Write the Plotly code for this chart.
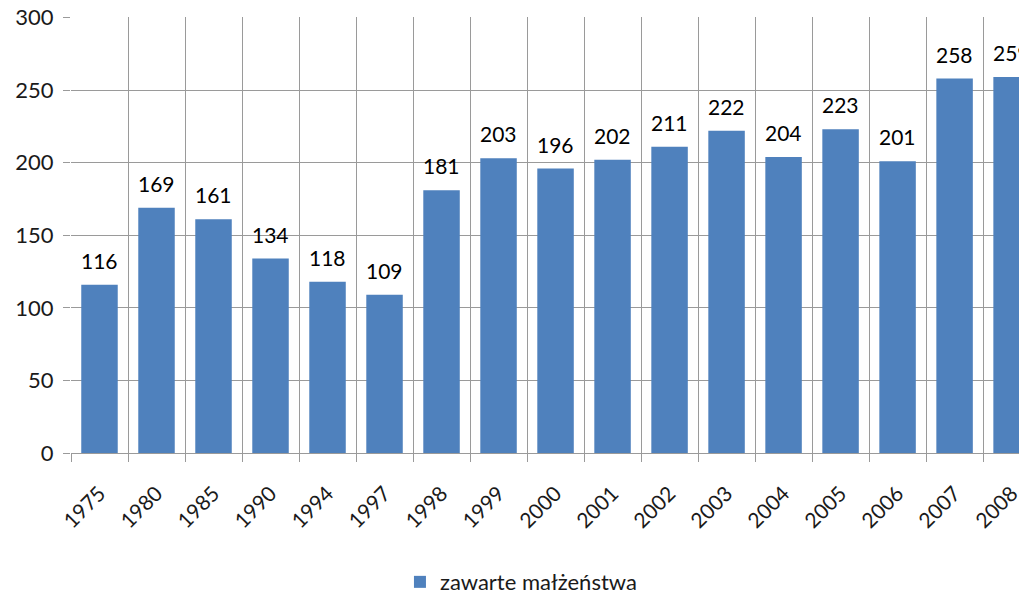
import plotly.graph_objs as go

years = ["1975", "1980", "1985", "1990", "1994", "1997", "1998", "1999", "2000",
         "2001", "2002", "2003", "2004", "2005", "2006", "2007", "2008"]
marriages = [116, 169, 161, 134, 118, 109, 181, 203, 196,
             202, 211, 222, 204, 223, 201, 258, 259]
y_ticks = [0, 50, 100, 150, 200, 250, 300]
series_name = "zawarte małżeństwa"

font_family = "Lato, 'Open Sans', sans-serif"

fig = go.Figure()
fig.add_trace(go.Bar(
    x=years,
    y=marriages,
    name=series_name,
    marker=dict(color="#4F81BD", line=dict(width=0)),
    showlegend=True,
))

# data labels above bars (x given as category index)
annotations = []
for i, val in enumerate(marriages):
    annotations.append(dict(
        x=i, y=val, xref="x", yref="y",
        text=str(val), showarrow=False,
        yanchor="bottom", yshift=10,
        font=dict(family=font_family, size=21, color="#000000"),
    ))

fig.update_layout(
    width=1019,
    height=594,
    margin=dict(l=71, r=0, t=17, b=141, autoexpand=False),
    paper_bgcolor="white",
    plot_bgcolor="white",
    bargap=0.36,
    font=dict(family=font_family, size=21, color="#1a1a1a"),
    annotations=annotations,
    showlegend=True,
    legend=dict(
        orientation="h",
        x=0.347, xanchor="left",
        y=-0.296, yanchor="middle",
        font=dict(family=font_family, size=22, color="#1a1a1a"),
    ),
)

fig.update_xaxes(
    type="category",
    range=[-0.5, 16.13],
    automargin=False,
    tickson="boundaries",
    showgrid=True,
    gridcolor="#9a9a9a",
    gridwidth=1,
    ticks="outside",
    ticklen=8,
    tickcolor="#9a9a9a",
    tickangle=-45,
    ticklabelstandoff=19,
    showline=True,
    linecolor="#9a9a9a",
    tickfont=dict(family=font_family, size=21, color="#1a1a1a"),
    fixedrange=True,
)

fig.update_yaxes(
    range=[0, 300.4],
    automargin=False,
    tickvals=y_ticks,
    showgrid=True,
    gridcolor="#9a9a9a",
    gridwidth=1,
    zeroline=False,
    ticks="outside",
    ticklen=7,
    tickcolor="#9a9a9a",
    showline=False,
    ticklabeloverflow="allow",
    tickfont=dict(family=font_family, size=22, color="#1a1a1a"),
    ticklabelstandoff=5,
    fixedrange=True,
)

# drop the default 8px page margin so the figure fills the window exactly
fig.write_html(
    "out.html",
    config={"displayModeBar": False},
    post_script="document.body.style.margin='0';document.body.style.overflow='hidden';",
)
